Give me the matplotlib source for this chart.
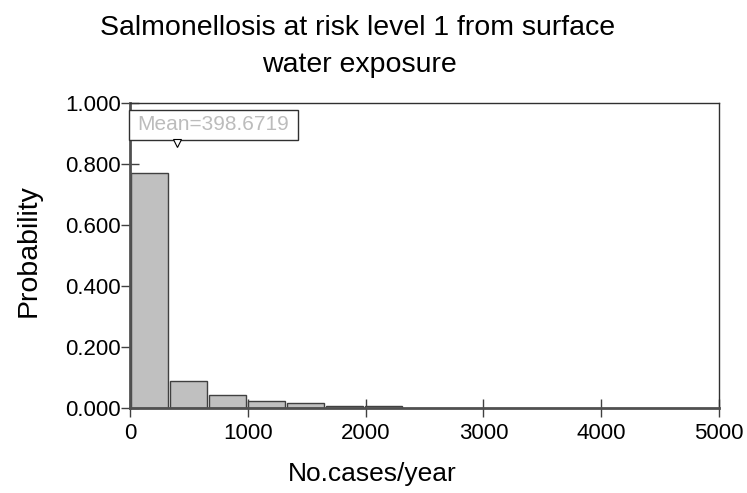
import numpy as np
import matplotlib.pyplot as plt
from matplotlib.patches import Rectangle

plt.rcParams['font.family'] = ['Liberation Sans', 'DejaVu Sans']

bin_edges = np.array([0, 331, 662, 993, 1324, 1655, 1986, 2317])
probs = np.array([0.770, 0.088, 0.043, 0.022, 0.015, 0.008, 0.005])
mean_val = 398.6719
x_ticks = [0, 1000, 2000, 3000, 4000, 5000]
y_ticks = [0.0, 0.2, 0.4, 0.6, 0.8, 1.0]

fig = plt.figure(figsize=(7.47, 4.93), dpi=100)
ax = fig.add_axes([0.174, 0.1724, 0.7885, 0.6186])

widths = np.diff(bin_edges)
gap = 8
ax.bar(bin_edges[:-1] + gap, probs, width=widths - 2 * gap, align='edge',
       color='#c0c0c0', edgecolor='#404040', linewidth=1.0, zorder=2)

ax.set_xlim(0, 5000)
ax.set_ylim(0, 1.0)
ax.set_xticks(x_ticks)
ax.set_yticks(y_ticks)
ax.set_yticklabels(['%.3f' % v for v in y_ticks])
ax.tick_params(axis='both', direction='inout', length=13, width=1.0,
               color='#404040', labelsize=16)
ax.tick_params(axis='x', pad=4)
ax.tick_params(axis='y', pad=0)

for s in ['left', 'bottom']:
	ax.spines[s].set_linewidth(2.0)
	ax.spines[s].set_color('#505050')
for s in ['top', 'right']:
	ax.spines[s].set_linewidth(1.0)
	ax.spines[s].set_color('#303030')

# mean label box and marker
ax.add_patch(Rectangle((-8, 0.88), 1434, 0.097, facecolor='white',
                       edgecolor='#303030', linewidth=1.0, clip_on=False, zorder=5))
ax.text(59, 0.929, 'Mean=%.4f' % mean_val, color='#bcbcbc', fontsize=15,
        ha='left', va='center', zorder=6)
ax.plot([mean_val], [0.868], marker='v', markersize=6, markerfacecolor='white',
        markeredgecolor='black', markeredgewidth=0.8, clip_on=False, zorder=6)

ax.set_xlabel('No.cases/year', fontsize=19)
ax.xaxis.set_label_coords(0.412, -0.178)
ax.set_ylabel('Probability', fontsize=20.5)
ax.yaxis.set_label_coords(-0.15, 0.515)

fig.text(0.479, 1 - 35 / 493, 'Salmonellosis at risk level 1 from surface',
         ha='center', va='baseline', fontsize=20.5)
fig.text(0.481, 1 - 72 / 493, 'water exposure',
         ha='center', va='baseline', fontsize=20.5)

fig.savefig('out.png', dpi=100)
